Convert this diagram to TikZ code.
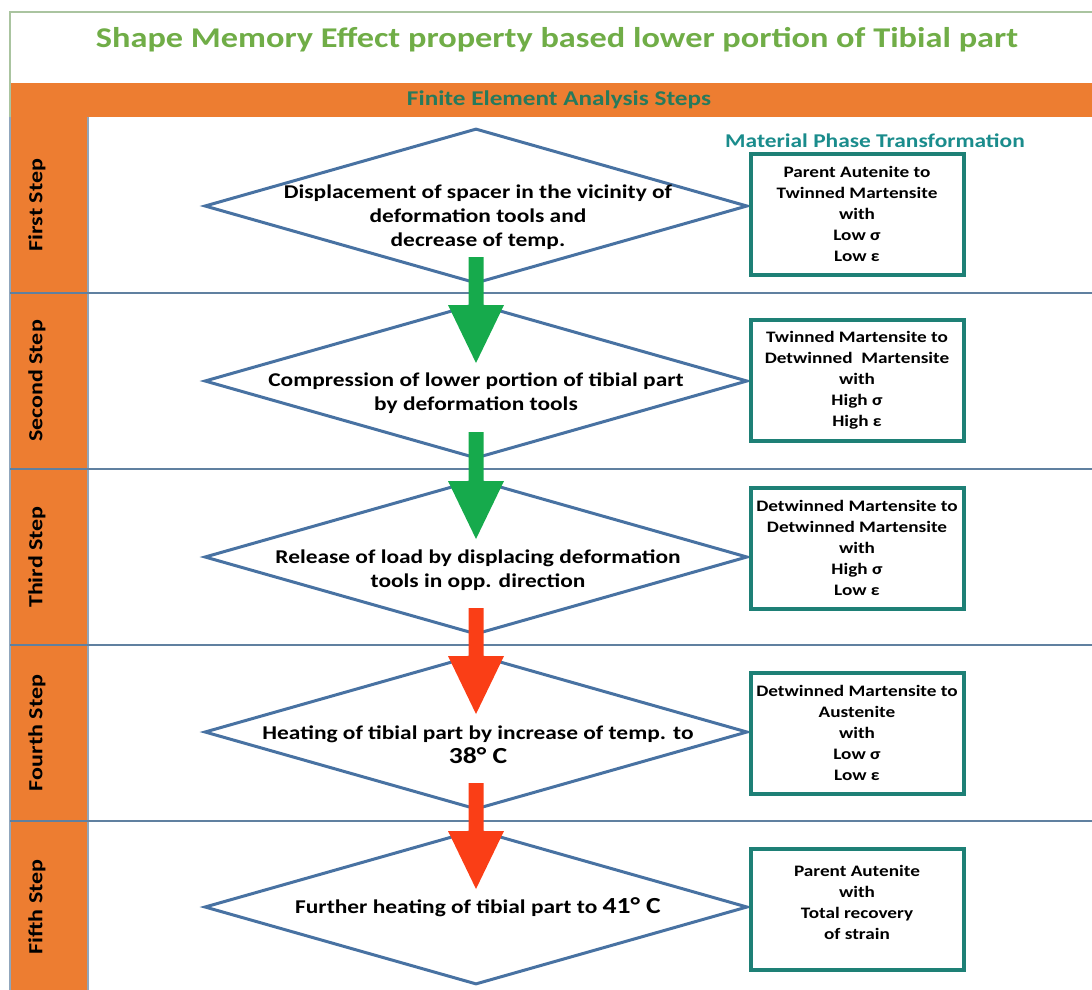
\documentclass[tikz,border=0pt]{standalone}
\usepackage{fontspec}
\setmainfont[FakeStretch=1.2]{Carlito}
\usetikzlibrary{shapes.geometric,calc}

\definecolor{barorange}{RGB}{237,125,49}
\definecolor{titlegreen}{RGB}{112,173,71}
\definecolor{headgreen}{RGB}{38,122,92}
\definecolor{phaseteal}{RGB}{26,140,140}
\definecolor{boxteal}{RGB}{30,128,118}
\definecolor{diamblue}{RGB}{72,114,162}
\definecolor{rowblue}{RGB}{96,128,160}
\definecolor{framegrey}{RGB}{170,196,160}
\definecolor{arrowgreen}{RGB}{22,170,76}
\definecolor{arrowred}{RGB}{250,62,22}

% block arrow between two diamonds
\newcommand{\flowarrow}[3]{%
  \fill[#3] ($(#1.center)+(-7.5,51)$) -- ($(#2.center)+(-7.5,-76)$)
    -- ($(#2.center)+(-28,-76)$) -- ($(#2.center)+(0,-18)$)
    -- ($(#2.center)+(28,-76)$) -- ($(#2.center)+(7.5,-76)$)
    -- ($(#1.center)+(7.5,51)$) -- cycle;}

\begin{document}
\begin{tikzpicture}[x=1pt,y=1pt,yscale=-1,
    stepdiamond/.style={draw=diamblue,line width=3pt,shape=diamond,
      minimum width=543pt,minimum height=155pt,inner sep=0pt},
    steptext/.style={font=\bfseries\fontsize{19.5}{24}\selectfont,align=center,
      inner sep=0pt},
    phasebox/.style={draw=boxteal,line width=4pt,minimum width=213pt,
      minimum height=121pt,font=\bfseries\fontsize{16}{21}\selectfont,
      align=center,inner sep=0pt},
    sidelabel/.style={rotate=90,font=\bfseries\fontsize{20}{22}\selectfont,
      inner sep=0pt},
    rowline/.style={draw=rowblue,line width=1.6pt}]
\useasboundingbox (0,0) rectangle (1092,990);

% frame and bars
\fill[barorange] (10,83) rectangle (1092,117);
\fill[barorange] (10,117) rectangle (88,990);
\draw[framegrey,line width=1.5pt] (10,990) -- (10,12) -- (1092,12);
\draw[rowblue!70,line width=1.2pt] (88,117) -- (88,990);
\draw[rowblue!70,line width=1.2pt] (10,117) -- (10,990);
\foreach \y in {293,469,645,821}
  \draw[rowline] (10,\y) -- (1092,\y);

% titles
\node[text=titlegreen,font=\bfseries\fontsize{28.6}{32}\selectfont] (title) at (557,40)
  {Shape Memory Effect property based lower portion of Tibial part};
\node[text=headgreen,font=\bfseries\fontsize{21}{22}\selectfont] (fea) at (559,100)
  {Finite Element Analysis Steps};
\node[text=phaseteal,font=\bfseries\fontsize{19.5}{22}\selectfont] (phase) at (875,141)
  {Material Phase Transformation};

% step labels
\node[sidelabel] (s1) at (37,205) {First Step};
\node[sidelabel] (s2) at (37,381) {Second Step};
\node[sidelabel] (s3) at (37,557) {Third Step};
\node[sidelabel] (s4) at (37,733) {Fourth Step};
\node[sidelabel] (s5) at (37,907) {Fifth Step};

% diamonds
\node[stepdiamond] (d1) at (476,206) {};
\node[stepdiamond] (d2) at (476,381) {};
\node[stepdiamond] (d3) at (476,557) {};
\node[stepdiamond] (d4) at (476,732) {};
\node[stepdiamond] (d5) at (476,907) {};

\node[steptext] (t1) at ($(d1.center)+(2,11)$)
  {Displacement of spacer in the vicinity of\\deformation tools and\\decrease of temp.};
\node[steptext] (t2) at ($(d2.center)+(0,12)$)
  {Compression of lower portion of tibial part\\by deformation tools};
\node[steptext] (t3) at ($(d3.center)+(2,13)$)
  {Release of load by displacing deformation\\tools in opp. direction};
\node[steptext] (t4) at ($(d4.center)+(2,13)$)
  {Heating of tibial part by increase of temp. to\\{\fontsize{23}{24}\selectfont 38° C}};
\node[steptext] (t5) at ($(d5.center)+(2,0)$)
  {Further heating of tibial part to {\fontsize{23}{24}\selectfont 41° C}};

% phase boxes
\node[phasebox] (b1) at (857,214)
  {Parent Autenite to\\Twinned Martensite\\with\\Low σ\\Low ε};
\node[phasebox] (b2) at (857,380)
  {Twinned Martensite to\\Detwinned\ \ Martensite\\with\\High σ\\High ε};
\node[phasebox] (b3) at (857,548)
  {Detwinned Martensite to\\Detwinned Martensite\\with\\High σ\\Low ε};
\node[phasebox] (b4) at (857,733)
  {Detwinned Martensite to\\Austenite\\with\\Low σ\\Low ε};
\node[phasebox,text depth=14pt] (b5) at (857,909)
  {Parent Autenite\\with\\Total recovery\\of strain};

% arrows
\flowarrow{d1}{d2}{arrowgreen}
\flowarrow{d2}{d3}{arrowgreen}
\flowarrow{d3}{d4}{arrowred}
\flowarrow{d4}{d5}{arrowred}
\end{tikzpicture}
\end{document}
